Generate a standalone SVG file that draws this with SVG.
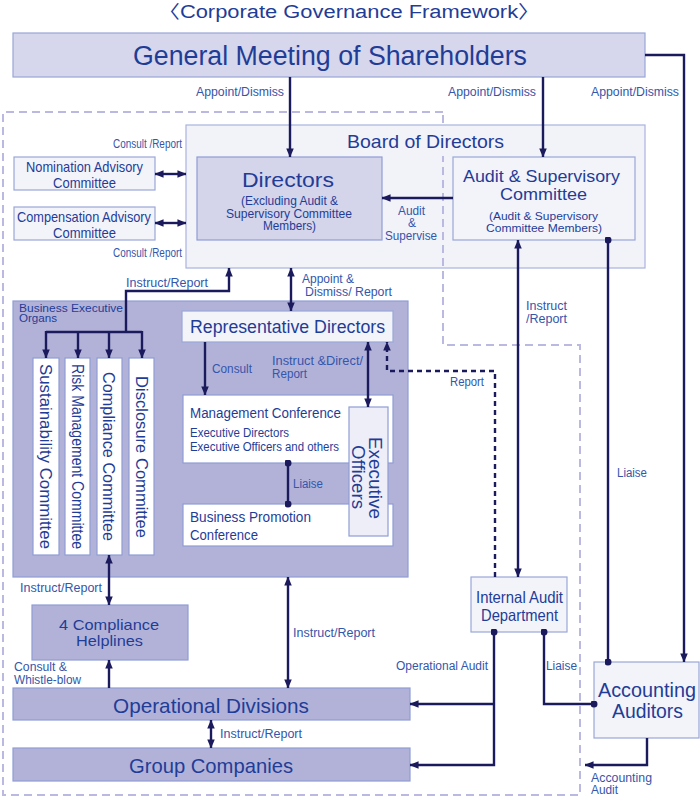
<svg xmlns="http://www.w3.org/2000/svg" width="700" height="809" viewBox="0 0 700 809">
<defs>
<style>
text{font-family:"Liberation Sans","Noto Sans CJK JP",sans-serif;fill:#1f3d97}
.lb{fill:#3456ab;font-size:12px}
.c{text-anchor:middle}
.line{fill:none;stroke:#1a1a5c;stroke-width:2.4}
.lite{fill:#f3f3fa;stroke:#9aa7d8;stroke-width:1.2}
.mid{fill:#d4d4eb;stroke:#8f9dd4;stroke-width:1.2}
.dark{fill:#b2b2d9;stroke:#8f9dd4;stroke-width:1.2}
.wht{fill:#ffffff;stroke:#8f9dd4;stroke-width:1.2}
</style>
<marker id="ah" viewBox="0 0 10 10" refX="9.5" refY="5" markerWidth="9" markerHeight="9" markerUnits="userSpaceOnUse" orient="auto-start-reverse"><path d="M0,0.8 L10,5 L0,9.2 z" fill="#1a1a5c"/></marker>
<marker id="dot" viewBox="0 0 8 8" refX="4" refY="4" markerWidth="7" markerHeight="7" markerUnits="userSpaceOnUse"><circle cx="4" cy="4" r="4" fill="#1a1a5c"/></marker>
</defs>
<rect width="700" height="809" fill="#ffffff"/>

<text x="349" y="18" class="c" font-size="18" textLength="382" lengthAdjust="spacingAndGlyphs">〈Corporate Governance Framework〉</text>

<g id="gms">
<rect x="13" y="33" width="632" height="44" fill="#d6d6ec" stroke="#98a6d8" stroke-width="1.2"/>
<text x="330" y="65" class="c" font-size="27" textLength="394" lengthAdjust="spacingAndGlyphs">General Meeting of Shareholders</text>
</g>

<g id="board">
<rect x="186" y="125" width="459" height="143" fill="#f2f2f9" stroke="#a8b3de" stroke-width="1.2"/>
</g>

<g id="boundary">
<path d="M443,112 H3 V795 H580 V345 H443 Z" fill="none" stroke="#b9b9e2" stroke-width="2" stroke-dasharray="8 5"/>
</g>

<g id="board-title">
<rect x="430" y="128" width="26" height="28" fill="#f2f2f9"/>
<text x="425.5" y="148" class="c" font-size="18.5" textLength="157" lengthAdjust="spacingAndGlyphs">Board of Directors</text>
</g>

<g id="directors">
<rect x="197" y="157" width="185" height="83" class="mid"/>
<text x="288" y="187" class="c" font-size="20.5" textLength="92" lengthAdjust="spacingAndGlyphs">Directors</text>
<text x="289.5" y="205" class="c" font-size="12" textLength="97" lengthAdjust="spacingAndGlyphs">(Excluding Audit &amp;</text>
<text x="289" y="217.5" class="c" font-size="12" textLength="126" lengthAdjust="spacingAndGlyphs">Supervisory Committee</text>
<text x="289.5" y="230" class="c" font-size="12" textLength="53" lengthAdjust="spacingAndGlyphs">Members)</text>
</g>

<g id="asc">
<rect x="453" y="157" width="182" height="83" class="lite"/>
<text x="541.5" y="182" class="c" font-size="17" textLength="157" lengthAdjust="spacingAndGlyphs">Audit &amp; Supervisory</text>
<text x="543.5" y="200" class="c" font-size="17" textLength="87" lengthAdjust="spacingAndGlyphs">Committee</text>
<text x="543.5" y="220" class="c" font-size="11.5" textLength="109" lengthAdjust="spacingAndGlyphs">(Audit &amp; Supervisory</text>
<text x="544" y="232" class="c" font-size="11.5" textLength="116" lengthAdjust="spacingAndGlyphs">Committee Members)</text>
</g>

<g id="nomination">
<rect x="14" y="157" width="141" height="33" class="lite"/>
<text x="84.5" y="172" class="c" font-size="14.5" textLength="117" lengthAdjust="spacingAndGlyphs">Nomination Advisory</text>
<text x="84.5" y="188" class="c" font-size="14.5" textLength="63" lengthAdjust="spacingAndGlyphs">Committee</text>
</g>

<g id="compensation">
<rect x="14" y="207" width="141" height="33" class="lite"/>
<text x="84" y="222" class="c" font-size="14.5" textLength="134" lengthAdjust="spacingAndGlyphs">Compensation Advisory</text>
<text x="84.5" y="237.5" class="c" font-size="14.5" textLength="63" lengthAdjust="spacingAndGlyphs">Committee</text>
</g>

<g id="beo">
<rect x="13" y="301" width="395" height="276" class="dark"/>
<text x="19" y="311.5" font-size="11" textLength="104" lengthAdjust="spacingAndGlyphs" fill="#2a4ba3">Business Executive</text>
<text x="19" y="322" font-size="11" textLength="38" lengthAdjust="spacingAndGlyphs" fill="#2a4ba3">Organs</text>
</g>

<g id="sustainability">
<rect x="33" y="358" width="26" height="197" class="wht"/>
<text transform="translate(39.5,456.5) rotate(90)" class="c" font-size="16.5" textLength="185" lengthAdjust="spacingAndGlyphs">Sustainability Committee</text>
</g>
<g id="risk">
<rect x="65" y="358" width="25" height="197" class="wht"/>
<text transform="translate(71.5,456.5) rotate(90)" class="c" font-size="16.5" textLength="185" lengthAdjust="spacingAndGlyphs">Risk Management Committee</text>
</g>
<g id="compliance">
<rect x="97" y="358" width="25" height="197" class="wht"/>
<text transform="translate(103,456.5) rotate(90)" class="c" font-size="16.5" textLength="169" lengthAdjust="spacingAndGlyphs">Compliance Committee</text>
</g>
<g id="disclosure">
<rect x="129" y="358" width="25" height="197" class="wht"/>
<text transform="translate(135.5,457) rotate(90)" class="c" font-size="16.5" textLength="162" lengthAdjust="spacingAndGlyphs">Disclosure Committee</text>
</g>

<g id="repdir">
<rect x="182" y="311" width="211" height="31" class="lite"/>
<text x="287.5" y="333" class="c" font-size="17.5" textLength="195" lengthAdjust="spacingAndGlyphs">Representative Directors</text>
</g>

<g id="mgmtconf">
<rect x="183" y="395" width="210" height="68" class="wht"/>
<text x="190" y="418" font-size="15.5" textLength="151" lengthAdjust="spacingAndGlyphs">Management Conference</text>
<text x="190" y="437" font-size="12" textLength="99" lengthAdjust="spacingAndGlyphs" fill="#3456ab">Executive Directors</text>
<text x="190" y="451" font-size="12" textLength="149" lengthAdjust="spacingAndGlyphs" fill="#3456ab">Executive Officers and others</text>
</g>

<g id="bizpromo">
<rect x="183" y="504" width="210" height="42" class="wht"/>
<text x="190" y="522" font-size="15.5" textLength="121" lengthAdjust="spacingAndGlyphs">Business Promotion</text>
<text x="190" y="540" font-size="15.5" textLength="68" lengthAdjust="spacingAndGlyphs">Conference</text>
</g>

<g id="execofficers">
<rect x="349" y="407" width="39" height="129" fill="#eeeef8" stroke="#8f9dd4" stroke-width="1.2"/>
<text transform="translate(369,478) rotate(90)" class="c" font-size="18.5" textLength="82" lengthAdjust="spacingAndGlyphs">Executive</text>
<text transform="translate(351.5,477) rotate(90)" class="c" font-size="18.5" textLength="64" lengthAdjust="spacingAndGlyphs">Officers</text>
</g>

<g id="internalaudit">
<rect x="471" y="577" width="96" height="55" class="lite"/>
<text x="519.5" y="603" class="c" font-size="16.5" textLength="87" lengthAdjust="spacingAndGlyphs">Internal Audit</text>
<text x="519.5" y="621" class="c" font-size="16.5" textLength="77" lengthAdjust="spacingAndGlyphs">Department</text>
</g>

<g id="accountingauditors">
<rect x="594" y="662" width="105" height="76" class="lite"/>
<text x="647" y="697" class="c" font-size="19.5" textLength="98" lengthAdjust="spacingAndGlyphs">Accounting</text>
<text x="647.5" y="718" class="c" font-size="19.5" textLength="71" lengthAdjust="spacingAndGlyphs">Auditors</text>
</g>

<g id="helplines">
<rect x="32" y="605" width="156" height="55" class="dark"/>
<text x="109" y="630" class="c" font-size="15" textLength="100" lengthAdjust="spacingAndGlyphs">4 Compliance</text>
<text x="109.5" y="646" class="c" font-size="15" textLength="67" lengthAdjust="spacingAndGlyphs">Helplines</text>
</g>

<g id="opdivisions">
<rect x="13" y="688" width="397" height="32" class="dark"/>
<text x="211" y="713" class="c" font-size="21" textLength="196" lengthAdjust="spacingAndGlyphs">Operational Divisions</text>
</g>

<g id="groupcompanies">
<rect x="13" y="748" width="397" height="33" class="dark"/>
<text x="211" y="773" class="c" font-size="21" textLength="164" lengthAdjust="spacingAndGlyphs">Group Companies</text>
</g>

<g id="connectors">
<path class="line" d="M290,77 V157" marker-end="url(#ah)"/>
<path class="line" d="M543,77 V157" marker-end="url(#ah)"/>
<path class="line" d="M645,55 H684 V662" marker-end="url(#ah)"/>
<path class="line" d="M453,198 H382" marker-end="url(#ah)"/>
<path class="line" d="M155,174 H186" marker-start="url(#ah)" marker-end="url(#ah)"/>
<path class="line" d="M155,223 H186" marker-start="url(#ah)" marker-end="url(#ah)"/>
<path class="line" d="M126,332 V291 H229 V268" marker-end="url(#ah)"/>
<path class="line" d="M46,332 H142"/>
<path class="line" d="M46,331 V358" marker-end="url(#ah)"/>
<path class="line" d="M78,332 V358" marker-end="url(#ah)"/>
<path class="line" d="M109,332 V358" marker-end="url(#ah)"/>
<path class="line" d="M142,331 V358" marker-end="url(#ah)"/>
<path class="line" d="M291,268 V311" marker-start="url(#ah)" marker-end="url(#ah)"/>
<path class="line" d="M205,342 V395" marker-end="url(#ah)"/>
<path class="line" d="M368,342 V407" marker-start="url(#ah)" marker-end="url(#ah)"/>
<path class="line" d="M288,463 V504" marker-start="url(#dot)" marker-end="url(#dot)"/>
<path class="line" d="M495,577 V371 H387 V342" stroke-dasharray="5 4" marker-end="url(#ah)"/>
<path class="line" d="M518,240 V577" marker-start="url(#ah)" marker-end="url(#ah)"/>
<path class="line" d="M608,240 V662" marker-start="url(#dot)" marker-end="url(#dot)"/>
<path class="line" d="M109,555 V605" marker-start="url(#ah)" marker-end="url(#ah)"/>
<path class="line" d="M109,688 V660" marker-end="url(#ah)"/>
<path class="line" d="M288,577 V688" marker-start="url(#ah)" marker-end="url(#ah)"/>
<path class="line" d="M211,720 V748" marker-start="url(#ah)" marker-end="url(#ah)"/>
<path class="line" d="M494,632 V765 H410" marker-start="url(#dot)" marker-end="url(#ah)"/>
<path class="line" d="M494,704 H410" marker-end="url(#ah)"/>
<path class="line" d="M544,632 V704 H594" marker-start="url(#dot)" marker-end="url(#dot)"/>
<path class="line" d="M647,738 V765 H585" marker-end="url(#ah)"/>

<text class="lb" x="196" y="96" textLength="88" lengthAdjust="spacingAndGlyphs">Appoint/Dismiss</text>
<text class="lb" x="448" y="96" textLength="88" lengthAdjust="spacingAndGlyphs">Appoint/Dismiss</text>
<text class="lb" x="591" y="96" textLength="88" lengthAdjust="spacingAndGlyphs">Appoint/Dismiss</text>
<text class="lb" x="113" y="148" font-size="11.5" textLength="69" lengthAdjust="spacingAndGlyphs">Consult /Report</text>
<text class="lb" x="113" y="257" font-size="11.5" textLength="69" lengthAdjust="spacingAndGlyphs">Consult /Report</text>
<text class="lb" x="411.5" y="214.5" text-anchor="middle" font-size="11" textLength="27" lengthAdjust="spacingAndGlyphs">Audit</text>
<text class="lb" x="412" y="227" text-anchor="middle" font-size="11">&amp;</text>
<text class="lb" x="411" y="239.5" text-anchor="middle" font-size="11" textLength="52" lengthAdjust="spacingAndGlyphs">Supervise</text>
<text class="lb" x="126" y="287" font-size="12.5" textLength="82" lengthAdjust="spacingAndGlyphs">Instruct/Report</text>
<text class="lb" x="302" y="283" textLength="52" lengthAdjust="spacingAndGlyphs">Appoint &amp;</text>
<text class="lb" x="305" y="295.5" textLength="87" lengthAdjust="spacingAndGlyphs">Dismiss/ Report</text>
<text class="lb" x="526" y="310" textLength="41" lengthAdjust="spacingAndGlyphs">Instruct</text>
<text class="lb" x="526" y="323" textLength="41" lengthAdjust="spacingAndGlyphs">/Report</text>
<text class="lb" x="212" y="373" font-size="12.5" textLength="40" lengthAdjust="spacingAndGlyphs">Consult</text>
<text class="lb" x="272" y="364.5" textLength="91" lengthAdjust="spacingAndGlyphs">Instruct &amp;Direct/</text>
<text class="lb" x="272" y="377.5" textLength="35" lengthAdjust="spacingAndGlyphs">Report</text>
<text class="lb" x="450" y="386" textLength="34" lengthAdjust="spacingAndGlyphs">Report</text>
<text class="lb" x="293" y="488" textLength="30" lengthAdjust="spacingAndGlyphs">Liaise</text>
<text class="lb" x="617" y="477" textLength="30" lengthAdjust="spacingAndGlyphs">Liaise</text>
<text class="lb" x="20" y="592" textLength="82" lengthAdjust="spacingAndGlyphs">Instruct/Report</text>
<text class="lb" x="293" y="637" textLength="82" lengthAdjust="spacingAndGlyphs">Instruct/Report</text>
<text class="lb" x="396" y="670" textLength="92" lengthAdjust="spacingAndGlyphs">Operational Audit</text>
<text class="lb" x="546" y="670" textLength="31" lengthAdjust="spacingAndGlyphs">Liaise</text>
<text class="lb" x="14" y="670.5" font-size="10" textLength="53" lengthAdjust="spacingAndGlyphs">Consult &amp;</text>
<text class="lb" x="14" y="683.5" font-size="10" textLength="67" lengthAdjust="spacingAndGlyphs">Whistle-blow</text>
<text class="lb" x="220" y="738" textLength="82" lengthAdjust="spacingAndGlyphs">Instruct/Report</text>
<text class="lb" x="591" y="781.5" font-size="11" textLength="61" lengthAdjust="spacingAndGlyphs">Accounting</text>
<text class="lb" x="591" y="794" font-size="11" textLength="27" lengthAdjust="spacingAndGlyphs">Audit</text>
</g>
</svg>
